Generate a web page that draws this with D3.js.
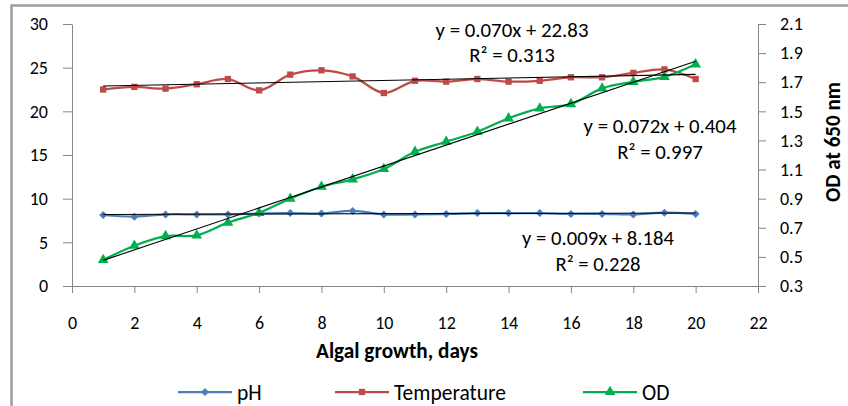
<!DOCTYPE html>
<html><head><meta charset="utf-8">
<script src="https://cdn.jsdelivr.net/npm/d3@7"></script>
<style>
body{margin:0;background:#fff}
svg{display:block}
text{font-family:Carlito,Calibri,Lato,sans-serif;fill:#000}
</style>
</head><body>
<svg id="c" width="848" height="406"></svg>
<script>
// ---------- data ----------
const days = [1,2,3,4,5,6,7,8,9,10,11,12,13,14,15,16,17,18,19,20];
const pH = [8.13,7.94,8.2,8.2,8.2,8.3,8.35,8.3,8.6,8.2,8.2,8.25,8.35,8.35,8.35,8.25,8.25,8.2,8.4,8.25];
const temperature = [22.5,22.8,22.6,23.1,23.7,22.4,24.2,24.7,24.0,22.1,23.5,23.4,23.7,23.4,23.5,23.9,23.9,24.4,24.8,23.7];
const od = [0.479,0.577,0.643,0.648,0.735,0.803,0.90,0.982,1.033,1.104,1.222,1.291,1.36,1.452,1.52,1.55,1.658,1.703,1.737,1.823];
const xTicks = [0,2,4,6,8,10,12,14,16,18,20,22];
const leftTicks = [0,5,10,15,20,25,30];
const rightTicks = [0.3,0.5,0.7,0.9,1.1,1.3,1.5,1.7,1.9,2.1];
const seriesNames = ["pH","Temperature","OD"];
const trendSlopes = [0.009,0.070,0.072];
const trendIntercepts = [8.184,22.83,0.404];
const trendEquations = ["y = 0.009x + 8.184","y = 0.070x + 22.83","y = 0.072x + 0.404"];
const trendR2 = ["R² = 0.228","R² = 0.313","R² = 0.997"];
const xTitle = "Algal growth, days";
const rightTitle = "OD at 650 nm";

// ---------- layout / style ----------
const colors = ["#4A7EBB","#BE4B48","#00B050"];
const axisColor = "#868686";
const svg = d3.select("#c");

const x = d3.scaleLinear([0,22],[72,758]);
const yL = d3.scaleLinear([0,30],[286,24]);
const yR = d3.scaleLinear([0.3,2.1],[286,24]);
const yScales = [yL,yL,yR];
const seriesData = [pH,temperature,od];

function fit(sel, target){
  const base = 20;
  sel.style("font-size", base+"px");
  const w = sel.node().getComputedTextLength();
  const s = base*target/w;
  sel.style("font-size", s+"px");
  return s;
}

// frame
svg.append("path").attr("d","M11.5,406V5.5H848").attr("fill","none")
  .attr("stroke","#9d9d9d").attr("stroke-width",2.5);

// axes
const tickFont = "18px";
const gL = svg.append("g").attr("transform","translate(72,0)")
  .call(d3.axisLeft(yL).tickValues(leftTicks).tickSize(9).tickSizeOuter(0).tickPadding(15).tickFormat(d3.format("d")));
const gR = svg.append("g").attr("transform","translate(758,0)")
  .call(d3.axisRight(yR).tickValues(rightTicks).tickSize(8).tickSizeOuter(0).tickPadding(14).tickFormat(d3.format(".1f")));
const gB = svg.append("g").attr("transform","translate(0,286)")
  .call(d3.axisBottom(x).tickValues(xTicks).tickSize(7).tickSizeOuter(0).tickPadding(23).tickFormat(d3.format("d")));
[gL,gR,gB].forEach(g=>{
  g.selectAll("path.domain").attr("stroke",axisColor);
  g.selectAll(".tick line").attr("stroke",axisColor);
  g.selectAll("text").style("font-size",tickFont).style("font-family","Carlito,Calibri,Lato,sans-serif").attr("fill","#000");
});
gB.selectAll("text").attr("dy","0.71em");

// series
const line = (ys)=> d3.line().x((d,i)=>x(days[i])).y(d=>ys(d)).curve(d3.curveCatmullRom.alpha(0.5));
const symbols = [
  {type:d3.symbolSquare,size:32,rot:45},
  {type:d3.symbolSquare,size:40,rot:0},
  {type:d3.symbolTriangle,size:50,rot:0}
];
seriesData.forEach((vals,k)=>{
  const g = svg.append("g");
  g.append("path").attr("d",line(yScales[k])(vals)).attr("fill","none")
    .attr("stroke",colors[k]).attr("stroke-width",2.25);
  g.selectAll("path.m").data(vals).join("path").attr("class","m")
    .attr("d",d3.symbol(symbols[k].type,symbols[k].size))
    .attr("transform",(d,i)=>`translate(${x(days[i])},${yScales[k](d)}) rotate(${symbols[k].rot})`)
    .attr("fill",colors[k]);
});

// trendlines
seriesData.forEach((vals,k)=>{
  const x0 = days[0], x1 = days[days.length-1];
  svg.append("line")
    .attr("x1",x(x0)).attr("y1",yScales[k](trendSlopes[k]*x0+trendIntercepts[k]))
    .attr("x2",x(x1)).attr("y2",yScales[k](trendSlopes[k]*x1+trendIntercepts[k]))
    .attr("stroke","#000").attr("stroke-width",1.1);
});

// trend labels
const eqPos = [[598,245,271],[512,37,62],[660,133,159]];
const eqW = [152,153,153];
trendEquations.forEach((t,k)=>{
  const e = svg.append("text").attr("x",eqPos[k][0]).attr("y",eqPos[k][1]).attr("text-anchor","middle").text(t);
  const s = fit(e, eqW[k]);
  svg.append("text").attr("x",eqPos[k][0]).attr("y",eqPos[k][2]).attr("text-anchor","middle")
    .style("font-size",s+"px").text(trendR2[k]);
});

// axis titles
const xt = svg.append("text").attr("x",397).attr("y",358).attr("text-anchor","middle")
  .style("font-weight","bold").text(xTitle);
fit(xt,162);
const rt = svg.append("text").attr("transform","translate(840,142) rotate(-90)").attr("text-anchor","middle")
  .style("font-weight","bold").text(rightTitle);
fit(rt,120);

// legend
const legX = [178,335,583];
const legY = 392;
let legSize = null;
seriesNames.forEach((n,k)=>{
  const g = svg.append("g").attr("transform",`translate(${legX[k]},${legY})`);
  g.append("line").attr("x1",0).attr("x2",54).attr("stroke",colors[k]).attr("stroke-width",2.25);
  g.append("path").attr("d",d3.symbol(symbols[k].type,symbols[k].size))
    .attr("transform",`translate(27,0) rotate(${symbols[k].rot})`).attr("fill",colors[k]);
  const t = g.append("text").attr("x",59).attr("dy","0.35em").text(n);
  if(k===1) legSize = fit(t,112);
  else t.attr("class","legfix");
});
svg.selectAll("text.legfix").style("font-size",legSize+"px");
</script>
</body></html>
